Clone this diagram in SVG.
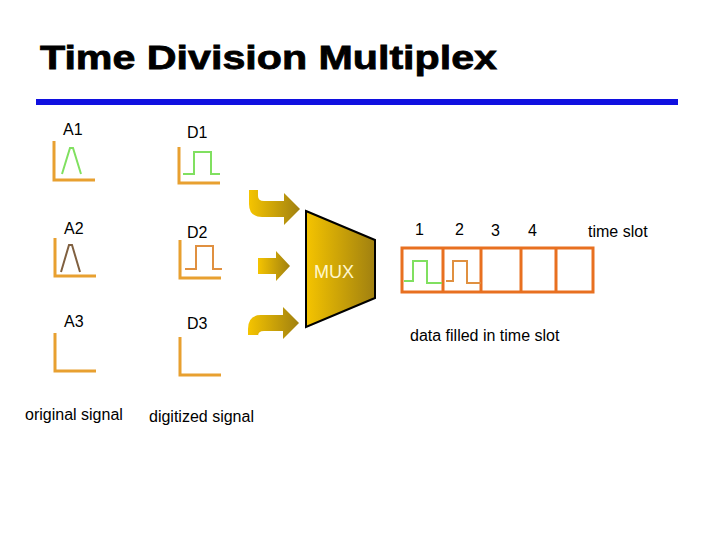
<svg xmlns="http://www.w3.org/2000/svg" width="720" height="540" viewBox="0 0 720 540">
<defs>
<linearGradient id="g" x1="0" x2="1" y1="0" y2="0"><stop offset="0" stop-color="#f5c400"/><stop offset="1" stop-color="#a08010"/></linearGradient>
<style>
text{font-family:"Liberation Sans",Arial,sans-serif;font-size:16px;fill:#000}
.ax{fill:none;stroke:#e8a030;stroke-width:3}
.sg{fill:none;stroke:#80e060;stroke-width:2}
.sb{fill:none;stroke:#806040;stroke-width:2}
.so{fill:none;stroke:#e09040;stroke-width:2}
.box{fill:none;stroke:#e87020;stroke-width:3}
</style>
</defs>
<rect width="720" height="540" fill="#fff"/>
<text x="40" y="69" textLength="457" lengthAdjust="spacingAndGlyphs" style="font-size:34px;font-weight:bold;stroke:#000;stroke-width:0.8">Time Division Multiplex</text>
<rect x="36" y="99" width="642" height="6" fill="#1010e0"/>
<g id="A1"><text x="63" y="135">A1</text><path class="ax" d="M54 141V180H95"/><path class="sg" d="M62 174L70 148H73L81 174"/></g>
<g id="A2"><text x="64" y="234">A2</text><path class="ax" d="M55 238V276H96"/><path class="sb" d="M61 272L69 245H72L80 272"/></g>
<g id="A3"><text x="64" y="327">A3</text><path class="ax" d="M55 333V371H96"/></g>
<g id="D1"><text x="187" y="138">D1</text><path class="ax" d="M179 147V183H220"/><path class="sg" d="M183 174H194V152H211V174H220"/></g>
<g id="D2"><text x="187" y="238">D2</text><path class="ax" d="M180 240V278H221"/><path class="so" d="M185 269H196V246H213V269H222"/></g>
<g id="D3"><text x="187" y="329">D3</text><path class="ax" d="M180 337V375H221"/></g>
<text x="25" y="420">original signal</text>
<text x="149" y="422">digitized signal</text>
<g id="connectors">
<path fill="url(#g)" d="M249 190h9v6q0 5 6 5h20v-8l16 16l-16 16v-8h-22q-13 0-13-13z"/>
<path fill="url(#g)" d="M258 258h18v-7l14 15l-14 15v-7h-18z"/>
<path fill="url(#g)" d="M248 335v-6q0-14 13-14h22v-8l16 16l-16 16v-8h-19q-6 0-6 5v-1z"/>
</g>
<g id="MUX"><path d="M306 211L375 240V298L306 327Z" fill="url(#g)" stroke="#000" stroke-width="2"/><text x="314" y="278" style="font-size:18px;fill:#fff8d0">MUX</text></g>
<g id="slots">
<rect class="box" x="402" y="248" width="191" height="44"/>
<path class="box" d="M443 248V292M481 248V292M521 248V292M556 248V292"/>
<path class="sg" d="M404 281H413V261H427V283H442"/>
<path class="so" d="M446 281H453V261H467V283H481"/>
<text x="415" y="235">1</text><text x="455" y="235">2</text><text x="491" y="236">3</text><text x="528" y="236">4</text>
<text x="588" y="237">time slot</text>
<text x="410" y="341">data filled in time slot</text>
</g>
</svg>
